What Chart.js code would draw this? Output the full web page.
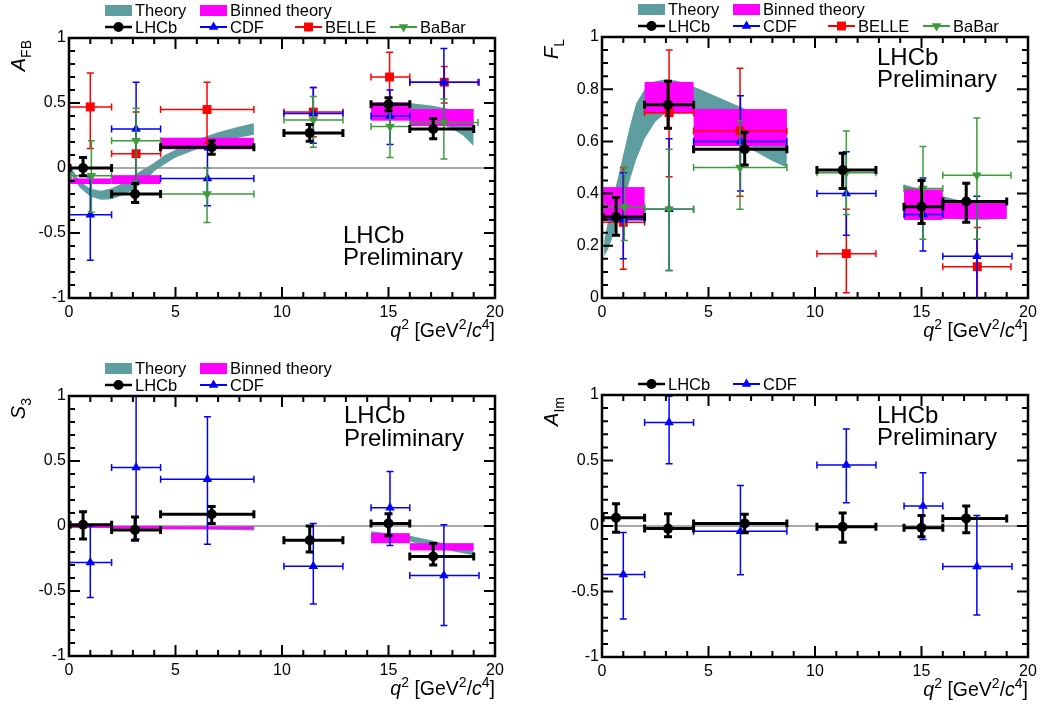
<!DOCTYPE html>
<html><head><meta charset="utf-8">
<script src="https://cdn.jsdelivr.net/npm/chart.js@4.4.1/dist/chart.umd.min.js"></script>
<style>
html,body{margin:0;padding:0;background:#fff;}
#wrap{position:relative;width:1043px;height:709px;overflow:hidden;}
canvas{position:absolute;}
</style></head>
<body><div id="wrap">
<canvas id="c1" width="521" height="354" style="left:0px;top:0px"></canvas>
<canvas id="c2" width="521" height="354" style="left:522px;top:0px"></canvas>
<canvas id="c3" width="521" height="355" style="left:0px;top:354px"></canvas>
<canvas id="c4" width="521" height="355" style="left:522px;top:354px"></canvas>
</div>
<script>
// ================= DATA =================
// q2 bins [GeV^2/c^4]
const lhcbBinLo = [0.05, 2, 4.3, 10.09, 14.18, 16];
const lhcbBinHi = [2, 4.3, 8.68, 12.86, 16, 19];
const lhcbQ2    = [0.66, 3.1, 6.7, 11.3, 15.0, 17.1];
const cdfBinLo  = [0, 2, 4.3, 10.09, 14.18, 16];
const cdfBinHi  = [2, 4.3, 8.68, 12.86, 16, 19.25];
const cdfQ2     = [1.0, 3.15, 6.5, 11.47, 15.07, 17.6];
const belleBinLo = [0, 2, 4.3, 10.09, 14.18, 16];
const belleBinHi = [2, 4.3, 8.68, 12.86, 16, 19.2];
const belleQ2    = [1.0, 3.15, 6.48, 11.47, 15.05, 17.62];
const babarBinLo = [0.1, 2, 4.3, 10.09, 14.18, 16];
const babarBinHi = [2, 4.3, 8.68, 12.86, 16, 19.2];
const babarQ2    = [1.05, 3.15, 6.48, 11.47, 15.07, 17.6];
const thBinLo = [0.05, 2, 4.3, 14.18, 16];
const thBinHi = [2, 4.3, 8.68, 16, 19];

// A_FB
const afbLhcb   = [0.00, -0.20, 0.16, 0.27, 0.49, 0.30];
const afbLhcbUp = [0.08, 0.08, 0.05, 0.065, 0.05, 0.08];
const afbLhcbDn = [0.06, 0.065, 0.055, 0.065, 0.05, 0.075];
const afbCdf    = [-0.36, 0.30, -0.08, 0.42, 0.40, 0.66];
const afbCdfUp  = [0.29, 0.36, 0.22, 0.20, 0.20, 0.26];
const afbCdfDn  = [0.35, 0.40, 0.21, 0.23, 0.22, 0.30];
const afbBelle   = [0.47, 0.11, 0.45, 0.43, 0.70, 0.66];
const afbBelleUp = [0.26, 0.32, 0.21, 0.19, 0.19, 0.12];
const afbBelleDn = [0.32, 0.38, 0.26, 0.19, 0.24, 0.16];
const afbBabar   = [-0.06, 0.21, -0.20, 0.37, 0.32, 0.35];
const afbBabarUp = [0.27, 0.25, 0.20, 0.18, 0.15, 0.18];
const afbBabarDn = [0.28, 0.31, 0.22, 0.21, 0.24, 0.28];
const afbBinTop = [-0.08, -0.055, 0.233, 0.505, 0.454];
const afbBinBot = [-0.123, -0.123, 0.144, 0.364, 0.323];
const afbThLowQ2 = [0.05, 0.5, 1.0, 1.5, 2.0, 2.5, 3.0, 3.5, 4.0, 4.5, 5.0, 6.0, 7.0, 8.0, 8.68];
const afbThLowUp = [0.02, -0.10, -0.16, -0.175, -0.155, -0.12, -0.06, -0.01, 0.04, 0.10, 0.14, 0.22, 0.275, 0.32, 0.345];
const afbThLowLo = [-0.04, -0.15, -0.22, -0.245, -0.24, -0.21, -0.17, -0.11, -0.025, 0.03, 0.08, 0.145, 0.20, 0.235, 0.255];
const afbThHighQ2 = [14.18, 15, 16, 17, 18, 18.5, 19];
const afbThHighUp = [0.50, 0.505, 0.50, 0.48, 0.45, 0.425, 0.38];
const afbThHighLo = [0.41, 0.42, 0.41, 0.37, 0.30, 0.25, 0.17];

// F_L
const flLhcb   = [0.31, 0.74, 0.57, 0.49, 0.35, 0.37];
const flLhcbUp = [0.075, 0.09, 0.065, 0.065, 0.10, 0.07];
const flLhcbDn = [0.07, 0.09, 0.06, 0.07, 0.065, 0.08];
const flCdf    = [0.30, 0.34, 0.60, 0.40, 0.32, 0.16];
const flCdfUp  = [0.18, 0.27, 0.175, 0.16, 0.14, 0.23];
const flCdfDn  = [0.15, 0.235, 0.19, 0.16, 0.14, 0.25];
const flBelle   = [0.29, 0.71, 0.64, 0.17, null, 0.12];
const flBelleUp = [0.21, 0.24, 0.24, 0.17, null, 0.15];
const flBelleDn = [0.18, 0.245, 0.25, 0.15, null, 0.14];
const flBabar   = [0.35, 0.34, 0.50, 0.48, 0.42, 0.47];
const flBabarUp = [0.15, 0.23, 0.18, 0.16, 0.16, 0.22];
const flBabarDn = [0.13, 0.235, 0.16, 0.16, 0.195, 0.245];
const flBinTop = [0.425, 0.828, 0.724, 0.416, 0.372];
const flBinBot = [0.30, 0.707, 0.582, 0.299, 0.303];
const flThLowQ2 = [0.1, 0.3, 0.66, 1.0, 1.3, 1.6, 2.0, 2.5, 3.0, 3.5, 4.3, 5.0, 6.0, 7.0, 8.0, 8.68];
const flThLowUp = [0.22, 0.30, 0.43, 0.55, 0.655, 0.745, 0.80, 0.83, 0.838, 0.832, 0.81, 0.785, 0.75, 0.715, 0.675, 0.645];
const flThLowLo = [0.16, 0.19, 0.27, 0.36, 0.45, 0.53, 0.61, 0.675, 0.71, 0.725, 0.72, 0.69, 0.62, 0.57, 0.525, 0.50];
const flThHighQ2 = [14.18, 15, 16, 17, 18, 19];
const flThHighUp = [0.435, 0.415, 0.39, 0.37, 0.36, 0.35];
const flThHighLo = [0.39, 0.35, 0.31, 0.30, 0.30, 0.305];

// S_3
const s3Lhcb   = [0.01, -0.03, 0.09, -0.11, 0.02, -0.235];
const s3LhcbUp = [0.10, 0.10, 0.06, 0.11, 0.075, 0.10];
const s3LhcbDn = [0.11, 0.08, 0.07, 0.09, 0.095, 0.065];
const s3Cdf    = [-0.28, 0.45, 0.36, -0.31, 0.14, -0.38];
const s3CdfUp  = [0.28, 0.60, 0.48, 0.33, 0.28, 0.39];
const s3CdfDn  = [0.27, 0.55, 0.50, 0.29, 0.29, 0.385];
const s3BinTop = [0.0, 0.0, -0.003, -0.055, -0.132];
const s3BinBot = [-0.015, -0.02, -0.025, -0.132, -0.188];
const s3ThLowQ2 = [0.05, 2, 4, 6, 8.68];
const s3ThLowUp = [0.0, -0.002, -0.005, -0.01, -0.015];
const s3ThLowLo = [-0.005, -0.012, -0.02, -0.025, -0.035];
const s3ThHighQ2 = [14.18, 15, 16, 17, 18, 19];
const s3ThHighUp = [-0.04, -0.055, -0.075, -0.11, -0.15, -0.19];
const s3ThHighLo = [-0.07, -0.09, -0.12, -0.16, -0.195, -0.225];

// A_Im
const aimLhcb   = [0.063, -0.02, 0.02, -0.006, -0.014, 0.058];
const aimLhcbUp = [0.107, 0.114, 0.07, 0.106, 0.094, 0.094];
const aimLhcbDn = [0.111, 0.063, 0.072, 0.118, 0.069, 0.11];
const aimCdf    = [-0.37, 0.79, -0.04, 0.465, 0.152, -0.31];
const aimCdfUp  = [0.32, 0.20, 0.35, 0.275, 0.254, 0.39];
const aimCdfDn  = [0.34, 0.315, 0.333, 0.288, 0.256, 0.37];

// Tick labels
const xTickVals = [0, 5, 10, 15, 20];
const xTickLabels = ['0', '5', '10', '15', '20'];
const symTickVals = [-1, -0.5, 0, 0.5, 1];
const symTickLabels = ['-1', '-0.5', '0', '0.5', '1'];
const flTickVals = [0, 0.2, 0.4, 0.6, 0.8, 1];
const flTickLabels = ['0', '0.2', '0.4', '0.6', '0.8', '1'];

// ================= STYLE =================
const FONT = '"Liberation Sans", Arial, Helvetica, sans-serif';
const TEAL = '#5f9ea0', MAG = '#ff00ff';
const EXP = {
  lhcb:  {label:'LHCb',  color:'#000000', style:'circle',   r:5,   rot:0,   lw:3,   cap:4},
  cdf:   {label:'CDF',   color:'#0000ff', style:'triangle', r:5.5, rot:0,   lw:1.5, cap:3.5},
  belle: {label:'BELLE', color:'#ff0000', style:'rect',     r:6.3, rot:0,   lw:1.5, cap:3.5},
  babar: {label:'BaBar', color:'#3c9c3c', style:'triangle', r:5.5, rot:180, lw:1.5, cap:3.5}
};
const ORDER = {lhcb:5, babar:6, cdf:7, belle:8};

function expDataset(key, q, lo, hi, v, up, dn) {
  const s = EXP[key];
  const idx = v.map((_, i) => i).filter(i => v[i] !== null);
  return {
    type:'scatter', label:s.label, order:ORDER[key],
    data: idx.map(i => ({x:q[i], y:v[i]})),
    err: {xlo: idx.map(i => lo[i]), xhi: idx.map(i => hi[i]), up: idx.map(i => up[i]), dn: idx.map(i => dn[i]),
          color:s.color, lw:s.lw, cap:s.cap},
    pointStyle:s.style, pointRadius:s.r, pointRotation:s.rot, pointHoverRadius:s.r,
    backgroundColor:s.color, borderColor:s.color, borderWidth:0
  };
}
function bandDatasets(q, up, lo) {
  return [
    {type:'line', data:q.map((x, i) => ({x, y:up[i]})), borderColor:'rgba(0,0,0,0)', borderWidth:0,
     pointRadius:0, fill:'+1', backgroundColor:TEAL, tension:0, order:20},
    {type:'line', data:q.map((x, i) => ({x, y:lo[i]})), borderColor:'rgba(0,0,0,0)', borderWidth:0,
     pointRadius:0, fill:false, tension:0, order:20}
  ];
}
function boxDataset(top, bot, zeroLine) {
  return {type:'scatter', data:[], order:15, zeroLine,
          boxes: top ? {lo:thBinLo, hi:thBinHi, top, bot} : null};
}

const LEG_ROW1 = [{box:TEAL, text:'Theory', col:0}, {box:MAG, text:'Binned theory', col:1}];
function legRow2(keys) { return keys.map((k, i) => ({exp:k, col:i})); }

const panels = [
  {id:'c1', w:521, h:354, area:{l:69, t:38, r:495, b:298}, yMin:-1, yMax:1, yVals:symTickVals, yLabels:symTickLabels,
   yMinorStep:0.1, yTitle:[{t:'A', it:true}, {t:'FB', sub:true}], prelim:{dx:274, dy1:205, dy2:227},
   legend:[LEG_ROW1, legRow2(['lhcb','cdf','belle','babar'])],
   datasets:[...bandDatasets(afbThLowQ2, afbThLowUp, afbThLowLo), ...bandDatasets(afbThHighQ2, afbThHighUp, afbThHighLo),
     boxDataset(afbBinTop, afbBinBot, true),
     expDataset('belle', belleQ2, belleBinLo, belleBinHi, afbBelle, afbBelleUp, afbBelleDn),
     expDataset('cdf', cdfQ2, cdfBinLo, cdfBinHi, afbCdf, afbCdfUp, afbCdfDn),
     expDataset('babar', babarQ2, babarBinLo, babarBinHi, afbBabar, afbBabarUp, afbBabarDn),
     expDataset('lhcb', lhcbQ2, lhcbBinLo, lhcbBinHi, afbLhcb, afbLhcbUp, afbLhcbDn)]},
  {id:'c2', w:521, h:354, area:{l:80, t:37, r:506, b:298}, yMin:0, yMax:1, yVals:flTickVals, yLabels:flTickLabels,
   yMinorStep:0.05, yTitle:[{t:'F', it:true}, {t:'L', sub:true}], prelim:{dx:275, dy1:28, dy2:50},
   legend:[LEG_ROW1, legRow2(['lhcb','cdf','belle','babar'])],
   datasets:[...bandDatasets(flThLowQ2, flThLowUp, flThLowLo), ...bandDatasets(flThHighQ2, flThHighUp, flThHighLo),
     boxDataset(flBinTop, flBinBot, false),
     expDataset('belle', belleQ2, belleBinLo, belleBinHi, flBelle, flBelleUp, flBelleDn),
     expDataset('cdf', cdfQ2, cdfBinLo, cdfBinHi, flCdf, flCdfUp, flCdfDn),
     expDataset('babar', babarQ2, babarBinLo, babarBinHi, flBabar, flBabarUp, flBabarDn),
     expDataset('lhcb', lhcbQ2, lhcbBinLo, lhcbBinHi, flLhcb, flLhcbUp, flLhcbDn)]},
  {id:'c3', w:521, h:355, area:{l:69, t:42, r:495, b:302}, yMin:-1, yMax:1, yVals:symTickVals, yLabels:symTickLabels,
   yMinorStep:0.1, yTitle:[{t:'S', it:true}, {t:'3', sub:true}], prelim:{dx:275, dy1:27, dy2:50},
   legend:[LEG_ROW1, legRow2(['lhcb','cdf'])],
   datasets:[...bandDatasets(s3ThLowQ2, s3ThLowUp, s3ThLowLo), ...bandDatasets(s3ThHighQ2, s3ThHighUp, s3ThHighLo),
     boxDataset(s3BinTop, s3BinBot, true),
     expDataset('cdf', cdfQ2, cdfBinLo, cdfBinHi, s3Cdf, s3CdfUp, s3CdfDn),
     expDataset('lhcb', lhcbQ2, lhcbBinLo, lhcbBinHi, s3Lhcb, s3LhcbUp, s3LhcbDn)]},
  {id:'c4', w:521, h:355, area:{l:80, t:41, r:506, b:303}, yMin:-1, yMax:1, yVals:symTickVals, yLabels:symTickLabels,
   yMinorStep:0.1, yTitle:[{t:'A', it:true}, {t:'Im', sub:true}], prelim:{dx:275, dy1:28, dy2:50},
   legend:[[], legRow2(['lhcb','cdf'])],
   datasets:[boxDataset(null, null, true),
     expDataset('cdf', cdfQ2, cdfBinLo, cdfBinHi, aimCdf, aimCdfUp, aimCdfDn),
     expDataset('lhcb', lhcbQ2, lhcbBinLo, lhcbBinHi, aimLhcb, aimLhcbUp, aimLhcbDn)]}
];

// ================= HELPERS =================
function drawRich(ctx, parts, x, y, size, align) {
  let w = 0;
  const segs = parts.map(p => {
    const small = p.sup || p.sub;
    const fs = small ? Math.round(size * 0.72) : size;
    const f = (p.it ? 'italic ' : '') + fs + 'px ' + FONT;
    ctx.font = f;
    const mw = ctx.measureText(p.t).width;
    w += mw + (p.pad || 0);
    return {p, f, mw, dy: p.sup ? -size * 0.4 : (p.sub ? size * 0.28 : 0)};
  });
  let cx = align === 'right' ? x - w : x;
  ctx.textAlign = 'left'; ctx.textBaseline = 'alphabetic';
  segs.forEach(s => { ctx.font = s.f; ctx.fillText(s.p.t, cx, y + s.dy); cx += s.mw + (s.p.pad || 0); });
}
function drawMarker(ctx, key, x, y) {
  const s = EXP[key];
  Chart.helpers.drawPoint(ctx, {pointStyle:s.style, radius:s.r, rotation:s.rot, borderWidth:0}, x, y);
}

function makePlugin(P) {
  return {
    id:'rootStyle',
    beforeDatasetDraw(chart, args) {
      const ds = chart.data.datasets[args.index];
      const xs = chart.scales.x, ys = chart.scales.y, ctx = chart.ctx, ca = chart.chartArea;
      ctx.save();
      ctx.beginPath(); ctx.rect(ca.left, ca.top, ca.right - ca.left, ca.bottom - ca.top); ctx.clip();
      if (ds.zeroLine) {
        const y0 = ys.getPixelForValue(0);
        ctx.strokeStyle = '#8c8c8c'; ctx.lineWidth = 1.3;
        ctx.beginPath(); ctx.moveTo(ca.left, y0); ctx.lineTo(ca.right, y0); ctx.stroke();
      }
      if (ds.boxes) {
        const b = ds.boxes; ctx.fillStyle = MAG;
        b.lo.forEach((lo, i) => {
          const x0 = xs.getPixelForValue(lo), x1 = xs.getPixelForValue(b.hi[i]);
          const y0 = ys.getPixelForValue(b.top[i]), y1 = ys.getPixelForValue(b.bot[i]);
          ctx.fillRect(x0, y0, x1 - x0, y1 - y0);
        });
      }
      if (ds.err) {
        const e = ds.err;
        ctx.strokeStyle = e.color; ctx.lineWidth = e.lw; ctx.lineCap = 'butt';
        ds.data.forEach((p, i) => {
          const x = xs.getPixelForValue(p.x), y = ys.getPixelForValue(p.y);
          const x0 = xs.getPixelForValue(e.xlo[i]), x1 = xs.getPixelForValue(e.xhi[i]);
          const y0 = ys.getPixelForValue(p.y - e.dn[i]), y1 = ys.getPixelForValue(p.y + e.up[i]);
          const c = e.cap;
          ctx.beginPath();
          ctx.moveTo(x0, y); ctx.lineTo(x1, y);
          ctx.moveTo(x, y0); ctx.lineTo(x, y1);
          ctx.moveTo(x0, y - c); ctx.lineTo(x0, y + c);
          ctx.moveTo(x1, y - c); ctx.lineTo(x1, y + c);
          ctx.moveTo(x - c, y0); ctx.lineTo(x + c, y0);
          ctx.moveTo(x - c, y1); ctx.lineTo(x + c, y1);
          ctx.stroke();
        });
      }
      ctx.restore();
    },
    afterDraw(chart) {
      const ctx = chart.ctx, ca = chart.chartArea, xs = chart.scales.x, ys = chart.scales.y;
      ctx.save();
      // ticks (inside, all four sides)
      ctx.strokeStyle = '#000'; ctx.lineWidth = 2;
      const MAJ = 11, MIN = 6;
      ctx.beginPath();
      for (let k = 0; k <= 20; k++) {
        const v = xs.min + k * (xs.max - xs.min) / 20;
        const L = (k % 5 === 0) ? MAJ : MIN;
        const px = xs.getPixelForValue(v);
        ctx.moveTo(px, ca.bottom); ctx.lineTo(px, ca.bottom - L);
        ctx.moveTo(px, ca.top); ctx.lineTo(px, ca.top + L);
      }
      const nY = Math.round((P.yMax - P.yMin) / P.yMinorStep);
      const majEvery = Math.round((P.yVals[1] - P.yVals[0]) / P.yMinorStep);
      for (let k = 0; k <= nY; k++) {
        const v = P.yMin + k * P.yMinorStep;
        const L = (k % majEvery === 0) ? MAJ : MIN;
        const py = ys.getPixelForValue(v);
        ctx.moveTo(ca.left, py); ctx.lineTo(ca.left + L, py);
        ctx.moveTo(ca.right, py); ctx.lineTo(ca.right - L, py);
      }
      ctx.stroke();
      ctx.lineWidth = 2.5;
      ctx.strokeRect(ca.left, ca.top, ca.right - ca.left, ca.bottom - ca.top);

      ctx.fillStyle = '#000';
      // x title
      drawRich(ctx, [{t:'q', it:true}, {t:'2', sup:true}, {t:' [GeV'}, {t:'2', sup:true}, {t:'/'}, {t:'c', it:true}, {t:'4', sup:true}, {t:']'}],
               ca.right, ca.bottom + 39, 19.5, 'right');
      // y title (rotated)
      ctx.save();
      ctx.translate(ca.left - 44, ca.top + 2);
      ctx.rotate(-Math.PI / 2);
      drawRich(ctx, P.yTitle, 0, 0, 20, 'right');
      ctx.restore();
      // LHCb Preliminary
      ctx.font = '24px ' + FONT; ctx.textAlign = 'left'; ctx.textBaseline = 'alphabetic';
      ctx.fillText('LHCb', ca.left + P.prelim.dx, ca.top + P.prelim.dy1);
      ctx.fillText('Preliminary', ca.left + P.prelim.dx, ca.top + P.prelim.dy2);
      // legend
      const colX = [36, 131, 226, 321];
      const rowY = [ca.top - 27.5, ca.top - 11];
      P.legend.forEach((row, r) => {
        row.forEach(it => {
          const x = ca.left + colX[it.col], y = rowY[r];
          let text;
          if (it.box) {
            ctx.fillStyle = it.box; ctx.fillRect(x, y - 5.5, 27, 11); text = it.text;
          } else {
            const s = EXP[it.exp];
            ctx.strokeStyle = s.color; ctx.lineWidth = it.exp === 'lhcb' ? 2.5 : 2;
            ctx.beginPath(); ctx.moveTo(x, y); ctx.lineTo(x + 27, y); ctx.stroke();
            ctx.fillStyle = s.color; drawMarker(ctx, it.exp, x + 13.5, y);
            text = s.label;
          }
          ctx.fillStyle = '#000'; ctx.font = '16.5px ' + FONT; ctx.textAlign = 'left'; ctx.textBaseline = 'middle';
          ctx.fillText(text, x + 30, y + 1);
        });
      });
      ctx.restore();
    }
  };
}

panels.forEach(P => {
  const A = P.area;
  new Chart(document.getElementById(P.id), {
    type:'scatter',
    data:{datasets:P.datasets},
    options:{
      responsive:false, animation:false, devicePixelRatio:1, events:[],
      layout:{padding:{left:0, top:A.t, right:P.w - A.r, bottom:0}},
      plugins:{legend:{display:false}, tooltip:{enabled:false}, filler:{propagate:false}},
      scales:{
        x:{type:'linear', min:0, max:20,
           afterFit(s){ s.height = P.h - A.b; },
           afterBuildTicks(s){ s.ticks = xTickVals.map(v => ({value:v})); },
           grid:{display:false, drawTicks:false}, border:{display:false},
           ticks:{font:{family:FONT, size:16}, color:'#000', padding:5, maxRotation:0, autoSkip:false,
                  callback:(v, i) => xTickLabels[i]}},
        y:{type:'linear', min:P.yMin, max:P.yMax,
           afterFit(s){ s.width = A.l; },
           afterBuildTicks(s){ s.ticks = P.yVals.map(v => ({value:v})); },
           grid:{display:false, drawTicks:false}, border:{display:false},
           ticks:{font:{family:FONT, size:16}, color:'#000', padding:3, autoSkip:false,
                  callback:(v, i) => P.yLabels[i]}}
      }
    },
    plugins:[makePlugin(P)]
  });
});
</script>
</body></html>
